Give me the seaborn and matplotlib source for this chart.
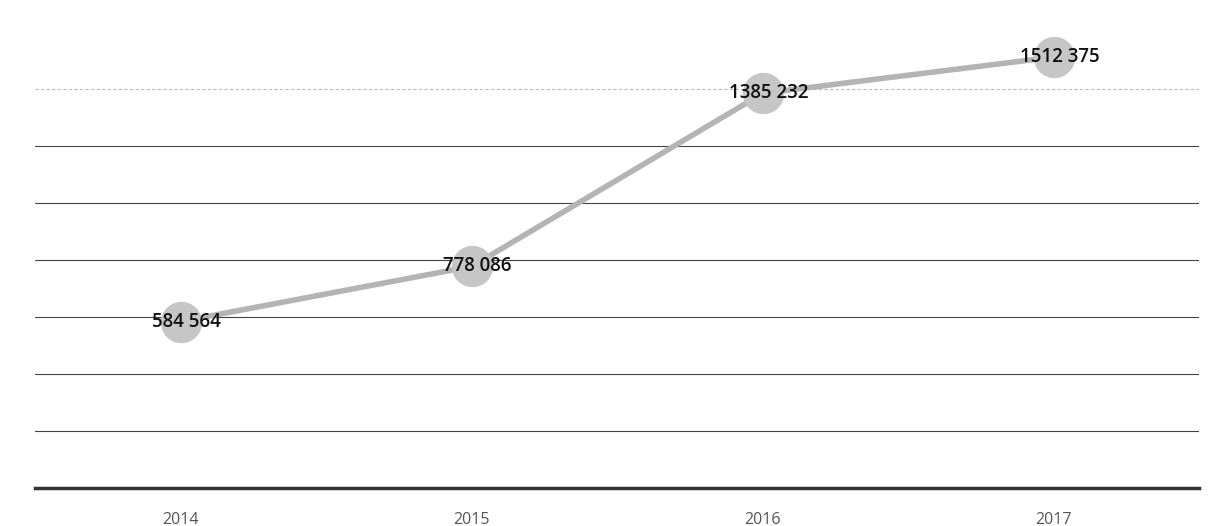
import matplotlib
matplotlib.use("Agg")
import matplotlib.pyplot as plt
import seaborn as sns
import pandas as pd

years = ["2014", "2015", "2016", "2017"]
values = [584564, 778086, 1385232, 1512375]
labels = ["584 564", "778 086", "1385 232", "1512 375"]

df = pd.DataFrame({"year": years, "value": values})

sns.set_style("white")
plt.rcParams["font.family"] = ["Open Sans", "DejaVu Sans"]

fig = plt.figure(figsize=(12.14, 5.26), dpi=100)
ax = fig.add_axes([0.029, 0.072, 0.959, 0.867])

sns.lineplot(data=df, x="year", y="value", ax=ax, color="#b4b4b4", linewidth=4,
             marker="o", markersize=29, markerfacecolor="#c6c6c6",
             markeredgecolor="#c6c6c6", zorder=3)

for i, (v, lab) in enumerate(zip(values, labels)):
    ax.text(i + 0.02, v, lab, ha="center", va="center", fontsize=13.5,
            fontweight="semibold", color="#111111", zorder=4)

ax.set_xlim(-0.5, 3.5)
ax.set_ylim(0, 1600000)
ax.set_yticks(range(0, 1600001, 200000))
ax.yaxis.grid(True, color="#444444", linewidth=0.8)
ax.set_axisbelow(True)
ax.tick_params(axis="y", left=False, labelleft=False)
ax.tick_params(axis="x", bottom=False, labelsize=11.5, labelcolor="#555555", pad=14)
ax.set_xlabel("")
ax.set_ylabel("")
for s in ["top", "right", "left"]:
    ax.spines[s].set_visible(False)
ax.spines["bottom"].set_color("#333333")
ax.spines["bottom"].set_linewidth(2.5)
ax.yaxis.get_gridlines()[-1].set_visible(False)
ax.yaxis.get_gridlines()[-2].set_color("#bbbbbb")
ax.yaxis.get_gridlines()[-2].set_linestyle((0, (3, 2)))

fig.savefig("out.png", dpi=100)
